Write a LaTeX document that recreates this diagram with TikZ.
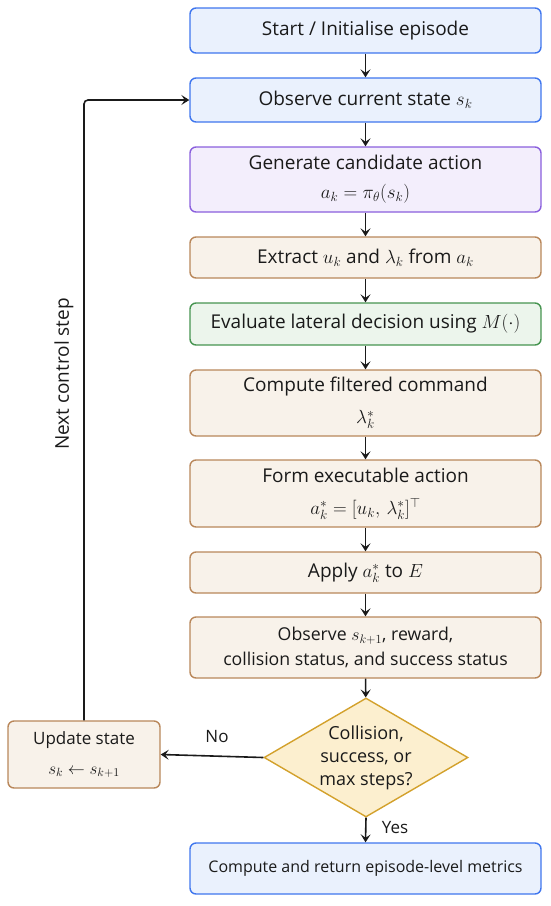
\RequirePackage{fix-cm}
\documentclass[tikz,border=0pt]{standalone}
\usepackage[no-math]{fontspec}
\setmainfont{Open Sans}
\usetikzlibrary{shapes.geometric,arrows.meta}
\definecolor{bluebd}{HTML}{3F76EE}
\definecolor{bluefl}{HTML}{EAF1FD}
\definecolor{purbd}{HTML}{8A5FDD}
\definecolor{purfl}{HTML}{F3EEFC}
\definecolor{brbd}{HTML}{B9875A}
\definecolor{brfl}{HTML}{F8F2EA}
\definecolor{grbd}{HTML}{469450}
\definecolor{grfl}{HTML}{ECF5EC}
\definecolor{gdbd}{HTML}{D3A12C}
\definecolor{gdfl}{HTML}{FCEFCF}
\definecolor{txt}{HTML}{1A1A1A}
\tikzset{
  box/.style={draw, rectangle, rounded corners=6pt, line width=1.4pt, minimum width=351pt, inner sep=0pt, align=center, text=txt, font=\fontsize{19}{29}\selectfont},
  bluebox/.style={box, draw=bluebd, fill=bluefl},
  purbox/.style={box, draw=purbd, fill=purfl},
  brbox/.style={box, draw=brbd, fill=brfl},
  grbox/.style={box, draw=grbd, fill=grfl},
  arr/.style={line width=1.6pt, draw=txt, -{Stealth[length=8pt,width=10pt,inset=3.5pt]}},
  lbl/.style={text=txt, inner sep=0pt}
}
\begin{document}
\begin{tikzpicture}[x=1pt,y=-1pt]
\useasboundingbox (0,0) rectangle (550,906);
\node[bluebox, minimum height=45pt] (start) at (365.5,30.5) {Start / Initialise episode};
\node[bluebox, minimum height=44pt] (obs) at (365.5,100) {Observe current state $s_k$};
\node[purbox, minimum height=65pt] (gen) at (365.5,179.5) {Generate candidate action\\ $a_k = \pi_\theta(s_k)$};
\node[brbox, minimum height=41pt] (ext) at (365.5,257.5) {Extract $u_k$ and $\lambda_k$ from $a_k$};
\node[grbox, minimum height=42pt] (eval) at (365.5,324) {Evaluate lateral decision using $M(\cdot)$};
\node[brbox, minimum height=66pt] (filt) at (365.5,403) {Compute filtered command\\[3pt] $\lambda_k^*$};
\node[brbox, minimum height=67pt] (form) at (365.5,493.5) {Form executable action\\[3pt] $a_k^* = [u_k,\, \lambda_k^*]^{\top}$};
\node[brbox, minimum height=41pt] (apply) at (365.5,572.5) {Apply $a_k^*$ to $E$};
\node[brbox, minimum height=61pt, font=\fontsize{17.7}{25}\selectfont] (obs2) at (365.5,647.5) {Observe $s_{k+1}$, reward,\\ collision status, and success status};
\node[diamond, draw=gdbd, fill=gdfl, line width=1.4pt, minimum width=204pt, minimum height=119pt, inner sep=0pt] (dec) at (366,757.5) {};
\node[align=center, text=txt, font=\fontsize{18}{23}\selectfont, inner sep=0pt] (dectxt) at (dec.center) {Collision,\\ success, or\\ max steps?};
\node[brbox, minimum width=152pt, minimum height=67pt, font=\fontsize{17}{22}\selectfont] (upd) at (84,754.5) {Update state\\[8pt] $s_k \leftarrow s_{k+1}$};
\node[bluebox, minimum height=51pt, font=\fontsize{16}{20}\selectfont] (final) at (365.5,868.5) {Compute and return episode-level metrics};
\draw[arr] (start) -- (obs);
\draw[arr] (obs) -- (gen);
\draw[arr] (gen) -- (ext);
\draw[arr] (ext) -- (eval);
\draw[arr] (eval) -- (filt);
\draw[arr] (filt) -- (form);
\draw[arr] (form) -- (apply);
\draw[arr] (apply) -- (obs2);
\draw[arr] (obs2) -- (dec);
\draw[arr] (dec.west) -- (upd.east);
\draw[arr] (dec.south) -- (final.north);
\draw[arr, rounded corners=4pt] (upd.north) |- (obs.west);
\node[lbl, font=\fontsize{17}{20}\selectfont] (no) at (217,737) {No};
\node[lbl, font=\fontsize{17}{20}\selectfont] (yes) at (395,828) {Yes};
\node[lbl, rotate=90, font=\fontsize{19}{22}\selectfont] (next) at (64,374) {Next control step};
\end{tikzpicture}
\end{document}
